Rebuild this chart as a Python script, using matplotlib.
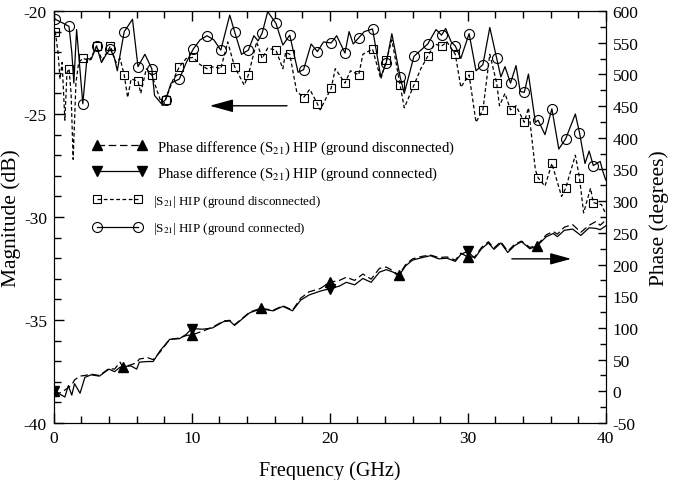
#!/usr/bin/env python3
import matplotlib.pyplot as plt
import numpy as np
from matplotlib.ticker import MultipleLocator

plt.rcParams['font.family'] = ['Liberation Serif', 'DejaVu Serif']
plt.rcParams['mathtext.fontset'] = 'stix'
plt.rcParams['axes.unicode_minus'] = False

# |S21| ground connected (solid, circles), GHz / dB
mag_conn_f = [0.0, 0.1, 0.7, 1.1, 1.3, 1.45, 1.65, 2.1, 2.4, 2.7,
              3.1, 3.45, 3.8, 4.1, 4.4, 4.6, 5.1, 5.7, 6.1, 6.6,
              7.1, 7.3, 7.8, 8.1, 8.5, 9.1, 9.6, 10.1, 10.6, 11.1,
              11.6, 12.1, 12.75, 13.1, 13.6, 14.1, 14.5, 14.8, 15.1, 15.5,
              16.1, 16.6, 17.1, 17.7, 18.1, 18.65, 19.1, 19.55, 20.1, 20.5,
              21.1, 21.4, 21.7, 22.1, 22.5, 23.1, 23.7, 24.1, 24.5, 25.1,
              25.4, 26.1, 26.6, 27.1, 27.7, 28.1, 28.4, 28.8, 29.1, 29.5,
              30.1, 30.6, 31.1, 31.6, 32.1, 32.4, 32.7, 33.1, 33.5, 33.8,
              34.1, 34.4, 34.9, 35.1, 35.6, 36.1, 36.6, 37.1, 37.8, 38.1,
              38.5, 38.8, 39.1, 39.6, 39.8, 40.0]
mag_conn = [-20.3, -20.4, -20.6, -20.75, -22.0, -23.5, -20.9, -24.5, -22.3, -22.35,
            -21.7, -22.5, -22.1, -21.85, -22.3, -22.9, -21.0, -20.4, -22.7, -22.1,
            -22.8, -24.1, -24.5, -24.3, -23.5, -23.3, -22.5, -21.85, -21.4, -21.2,
            -21.4, -21.9, -20.2, -21.0, -22.1, -21.9, -21.2, -21.45, -21.07, -20.03,
            -20.6, -21.65, -21.17, -22.97, -22.85, -21.6, -21.97, -21.5, -21.55, -21.2,
            -22.04, -21.0, -21.6, -21.3, -21.0, -20.87, -23.2, -22.5, -21.1, -23.2,
            -24.0, -22.2, -21.9, -21.6, -20.9, -21.17, -20.85, -21.5, -21.7, -22.3,
            -21.1, -22.9, -22.6, -20.8, -22.3, -23.2, -22.7, -23.5, -22.65, -23.9,
            -23.95, -23.06, -25.4, -25.3, -26.0, -24.75, -26.7, -26.2, -25.0, -25.9,
            -27.4, -26.8, -27.5, -27.3, -27.8, -28.2]

# |S21| ground disconnected (short dashes, squares)
mag_disc_f = [0.0, 0.1, 0.3, 0.45, 0.6, 0.8, 0.95, 1.1, 1.25, 1.4,
              1.6, 1.8, 2.1, 2.6, 3.1, 3.5, 4.1, 4.5, 4.8, 5.1,
              5.35, 5.6, 6.1, 6.3, 6.7, 7.1, 7.5, 7.9, 8.1, 8.6,
              9.1, 9.6, 10.1, 10.6, 11.1, 11.6, 12.1, 12.6, 13.1, 13.8,
              14.1, 14.7, 15.1, 15.5, 16.1, 16.6, 16.8, 17.1, 17.6, 18.1,
              18.55, 19.1, 19.3, 20.1, 20.4, 21.1, 21.5, 22.1, 22.4, 23.1,
              23.7, 24.1, 24.5, 25.1, 25.4, 26.1, 26.6, 27.1, 27.6, 28.1,
              28.5, 29.1, 29.5, 30.1, 30.6, 31.1, 31.6, 32.1, 32.3, 32.7,
              33.1, 33.5, 34.1, 34.4, 34.9, 35.1, 35.6, 36.1, 36.8, 37.1,
              37.8, 38.1, 38.4, 38.9, 39.1, 39.7, 40.0]
mag_disc = [-20.7, -21.0, -22.0, -23.3, -22.5, -25.3, -23.0, -22.8, -24.0, -27.2,
            -23.5, -22.5, -22.3, -22.4, -21.7, -22.4, -21.7, -22.5, -22.3, -23.1,
            -24.2, -23.3, -23.4, -24.0, -22.8, -23.1, -23.9, -24.66, -24.3, -23.4,
            -22.7, -22.3, -22.25, -22.6, -22.8, -22.7, -22.8, -21.5, -22.7, -23.6,
            -23.1, -21.5, -22.3, -21.8, -21.9, -22.8, -22.0, -22.1, -23.9, -24.2,
            -23.8, -24.5, -24.8, -23.75, -22.8, -23.5, -22.9, -23.1, -22.1, -21.85,
            -23.3, -22.4, -21.4, -23.6, -24.7, -23.6, -22.8, -22.2, -21.6, -21.7,
            -21.5, -22.1, -23.7, -23.1, -25.4, -24.8, -22.1, -23.5, -24.6, -24.0,
            -24.8, -24.6, -25.4, -24.7, -27.7, -28.1, -28.5, -27.4, -29.0, -28.6,
            -27.0, -28.1, -29.8, -28.6, -29.3, -29.4, -29.85]

# phase difference (degrees), both cases on one frequency grid
phase_f = [0.0, 0.4, 0.8, 1.05, 1.3, 1.5, 1.9, 2.25, 2.7, 3.3,
           4.0, 4.4, 4.8, 5.0, 5.6, 6.0, 6.2, 6.8, 7.2, 7.7,
           8.4, 9.1, 9.6, 10.0, 10.8, 11.5, 12.3, 12.75, 13.1, 13.7,
           14.2, 15.0, 15.9, 16.6, 17.3, 17.9, 18.5, 19.3, 20.0, 20.7,
           21.2, 21.8, 22.4, 23.0, 23.6, 24.1, 24.6, 25.0, 25.5, 26.0,
           26.7, 27.3, 27.9, 28.5, 29.1, 29.5, 30.0, 30.5, 31.0, 31.5,
           31.9, 32.4, 32.9, 33.4, 33.9, 34.5, 35.0, 35.7, 36.2, 36.5,
           37.0, 37.6, 38.2, 38.8, 39.3, 39.6, 40.0]
phase_conn = [0, -4, -9, 9, -6, 12, -3, 22, 26, 24,
              35, 31, 38, 39, 40, 35, 46, 47, 47, 64,
              82, 83, 90, 99, 98, 100, 110, 111, 104, 115,
              124, 130, 127, 134, 127, 144, 152, 158, 162, 166,
              172, 168, 178, 172, 188, 192, 188, 182, 198, 207,
              211, 214, 209, 210, 205, 216, 221, 210, 225, 234,
              224, 234, 219, 230, 236, 225, 229, 244, 249, 244,
              254, 256, 246, 258, 257, 255, 261]
phase_disc = [0, -3, 2, 6, 10, 18, 24, 25, 27, 25,
              36, 35, 46, 38, 42, 45, 51, 53, 50, 62,
              82, 84, 88, 89, 95, 101, 111, 112, 105, 116,
              125, 131, 128, 135, 128, 147, 157, 162, 172, 175,
              180, 175, 185, 177, 194, 196, 190, 183, 200, 209,
              213, 215, 211, 212, 207, 218, 212, 212, 227, 236,
              226, 236, 221, 232, 237, 227, 230, 247, 252, 248,
              259, 263, 251, 262, 268, 262, 270]

# frequencies carrying the triangle markers
tri_disc_f = [0, 5, 10, 15, 20, 25, 30, 35]
tri_conn_f = [0, 10, 20, 30]


def every_ghz(freq):
    # marker on the samples at 0.1, 1.1, 2.1 ... GHz
    r = (np.asarray(freq) - 0.1) % 1.0
    return list(np.where(np.isclose(r, 0, atol=1e-6) | np.isclose(r, 1, atol=1e-6))[0])


fig = plt.figure(figsize=(6.73, 4.81), dpi=100)
ax = fig.add_axes([0.080, 0.1185, 0.820, 0.8565])
ax2 = ax.twinx()

lw = 0.9
l_md, = ax.plot(mag_disc_f, mag_disc, color='black', lw=lw, dashes=(3, 2),
                marker='s', ms=5.8, mfc='none', mew=0.8, markevery=every_ghz(mag_disc_f))
l_mc, = ax.plot(mag_conn_f, mag_conn, color='black', lw=lw,
                marker='o', ms=7.2, mfc='none', mew=0.8, markevery=every_ghz(mag_conn_f))

l_pd, = ax2.plot(phase_f, phase_disc, color='black', lw=lw, dashes=(6, 3),
                 marker='^', ms=7.5, markevery=[phase_f.index(v) for v in tri_disc_f])
l_pc, = ax2.plot(phase_f, phase_conn, color='black', lw=lw,
                 marker='v', ms=7.5, markevery=[phase_f.index(v) for v in tri_conn_f])

ax.set_xlim(0, 40)
ax.set_ylim(-40, -20)
ax2.set_ylim(-50, 600)
ax.xaxis.set_major_locator(MultipleLocator(10))
ax.xaxis.set_minor_locator(MultipleLocator(2))
ax.yaxis.set_major_locator(MultipleLocator(5))
ax.yaxis.set_minor_locator(MultipleLocator(1))
ax2.yaxis.set_major_locator(MultipleLocator(50))
ax2.yaxis.set_minor_locator(MultipleLocator(25))

ax.tick_params(which='both', direction='in', top=True, right=False, labelsize=12.5, pad=5)
ax.tick_params(which='major', length=7, width=1)
ax.tick_params(which='minor', length=5, width=1)
ax2.tick_params(which='both', direction='in', labelsize=12.5, pad=5)
ax2.tick_params(which='major', length=6, width=1)
ax2.tick_params(which='minor', length=4, width=1)

ax.set_xlabel('Frequency (GHz)', fontsize=14.5, labelpad=10)
ax.set_ylabel('Magnitude (dB)', fontsize=15.5, labelpad=2)
ax2.set_ylabel('Phase (degrees)', fontsize=15.5, labelpad=8)

# direction arrows
ax.annotate('', xy=(11.3, -24.6), xytext=(16.9, -24.6),
            arrowprops=dict(arrowstyle='-|>,head_length=0.8,head_width=0.22',
                            mutation_scale=18, color='black', lw=1, shrinkA=0, shrinkB=0))
ax2.annotate('', xy=(37.5, 209), xytext=(33.2, 209),
             arrowprops=dict(arrowstyle='-|>,head_length=0.8,head_width=0.22',
                             mutation_scale=16, color='black', lw=1, shrinkA=0, shrinkB=0))

leg1 = ax2.legend([l_pd, l_pc],
                  ['Phase difference (S$_{21}$) HIP (ground disconnected)',
                   'Phase difference (S$_{21}$) HIP (ground connected)'],
                  loc='center left', bbox_to_anchor=(93 / 673, 1 - 161 / 481),
                  bbox_transform=fig.transFigure, frameon=False, numpoints=2,
                  fontsize=10.7, handlelength=3.6, handletextpad=0.7,
                  labelspacing=0.6, borderpad=0, borderaxespad=0)
ax2.add_artist(leg1)
ax2.legend([l_md, l_mc],
           ['|S$_{21}$| HIP (ground disconnected)',
            '|S$_{21}$| HIP (ground connected)'],
           loc='center left', bbox_to_anchor=(93 / 673, 1 - 215.5 / 481),
           bbox_transform=fig.transFigure, frameon=False, numpoints=2,
           fontsize=9.4, handlelength=3.75, handletextpad=0.85,
           labelspacing=0.9, borderpad=0, borderaxespad=0)

plt.savefig('out.png', dpi=100)
